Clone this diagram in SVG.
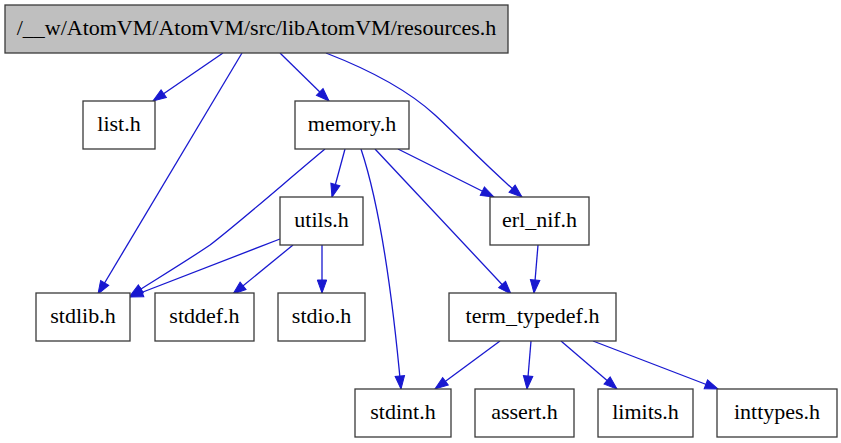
<svg xmlns="http://www.w3.org/2000/svg" width="841" height="443" viewBox="0 0 841 443">
<defs>
<style>
.box{fill:#fff;stroke:#3a3a3a;stroke-width:1.3}
.root{fill:#bfbfbf}
.e{fill:none;stroke:#1818d0;stroke-width:1.3;marker-end:url(#arr)}
</style>
<marker id="arr" markerUnits="userSpaceOnUse" markerWidth="16" markerHeight="12" refX="13" refY="5" orient="auto" overflow="visible">
<path d="M0,0.3 L13,5 L0,9.7 z" fill="#1818d0" stroke="#1818d0" stroke-width="1"/>
</marker>
</defs>
<rect width="841" height="443" fill="#fff"/>
<g id="edges">
<path class="e" d="M223,53 L153,101"/>
<path class="e" d="M242,53 L98,294"/>
<path class="e" d="M280,53 L329,101"/>
<path class="e" d="M326,53 C375,72 410,92 435,115 C460,138 490,170 522,197"/>
<path class="e" d="M325,149 C290,178 240,222 210,245 C185,262 150,283 130,296"/>
<path class="e" d="M345,149 L332,197"/>
<path class="e" d="M361,149 C378,200 392,290 401,389"/>
<path class="e" d="M375,149 L511,294"/>
<path class="e" d="M398,149 L494,197"/>
<path class="e" d="M280,239 L130,297"/>
<path class="e" d="M293,245 L233,294"/>
<path class="e" d="M322,245 L322,293"/>
<path class="e" d="M538,245 L534,293"/>
<path class="e" d="M500,341 L435,389"/>
<path class="e" d="M531,341 L527,389"/>
<path class="e" d="M561,341 L617,389"/>
<path class="e" d="M593,341 L718,389"/>
</g>
<g font-family="Liberation Serif, Times New Roman, serif" font-size="22" text-anchor="middle" fill="#000">
<g id="n_root"><rect class="box root" x="5" y="5" width="503" height="48"/><text x="256.5" y="35">/__w/AtomVM/AtomVM/src/libAtomVM/resources.h</text></g>
<g id="n_list"><rect class="box" x="83" y="101" width="72" height="48"/><text x="119" y="131">list.h</text></g>
<g id="n_memory"><rect class="box" x="295" y="101" width="114" height="48"/><text x="352" y="131">memory.h</text></g>
<g id="n_utils"><rect class="box" x="280" y="197" width="83" height="48"/><text x="321.5" y="227">utils.h</text></g>
<g id="n_erl_nif"><rect class="box" x="490" y="197" width="99" height="48"/><text x="539.5" y="227">erl_nif.h</text></g>
<g id="n_stdlib"><rect class="box" x="36" y="293" width="94" height="48"/><text x="83" y="323">stdlib.h</text></g>
<g id="n_stddef"><rect class="box" x="155" y="293" width="99" height="48"/><text x="204.5" y="323">stddef.h</text></g>
<g id="n_stdio"><rect class="box" x="278" y="293" width="87" height="48"/><text x="321.5" y="323">stdio.h</text></g>
<g id="n_term_typedef"><rect class="box" x="449" y="293" width="167" height="48"/><text x="532.5" y="323">term_typedef.h</text></g>
<g id="n_stdint"><rect class="box" x="355" y="389" width="96" height="48"/><text x="403" y="419">stdint.h</text></g>
<g id="n_assert"><rect class="box" x="475" y="389" width="99" height="48"/><text x="524.5" y="419">assert.h</text></g>
<g id="n_limits"><rect class="box" x="598" y="389" width="95" height="48"/><text x="645.5" y="419">limits.h</text></g>
<g id="n_inttypes"><rect class="box" x="717" y="389" width="120" height="48"/><text x="777" y="419">inttypes.h</text></g>
</g>
</svg>
